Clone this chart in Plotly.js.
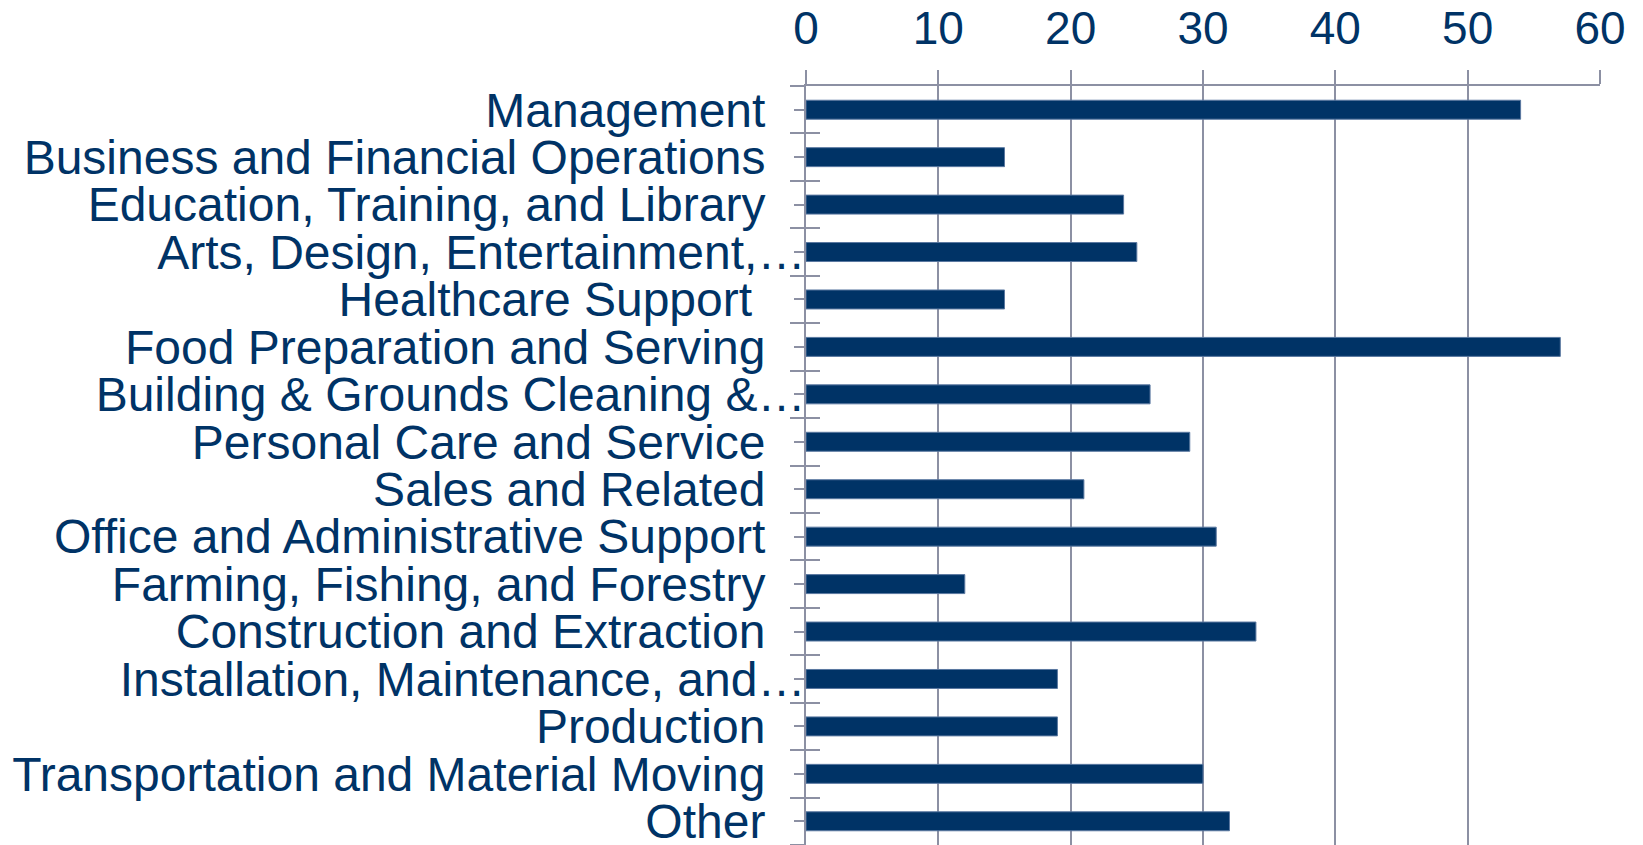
<!DOCTYPE html>
<html>
<head>
<meta charset="utf-8">
<script src="https://cdn.plot.ly/plotly-3.0.1.min.js"></script>
<style>html,body{margin:0;padding:0;background:#fff;}#chart{width:1643px;height:845px;}</style>
</head>
<body>
<div id="chart"></div>
<script>
const categories = [
  "Management",
  "Business and Financial Operations",
  "Education, Training, and Library",
  "Arts, Design, Entertainment,…",
  "Healthcare Support ",
  "Food Preparation and Serving",
  "Building & Grounds Cleaning &…",
  "Personal Care and Service",
  "Sales and Related",
  "Office and Administrative Support",
  "Farming, Fishing, and Forestry",
  "Construction and Extraction",
  "Installation, Maintenance, and…",
  "Production",
  "Transportation and Material Moving",
  "Other"
];
const values = [54, 15, 24, 25, 15, 57, 26, 29, 21, 31, 12, 34, 19, 19, 30, 32];
const xTicks = [0, 10, 20, 30, 40, 50, 60];

const navy = "rgb(0,51,102)";
const grid = "#8C90A3";
const font = "Liberation Sans, Arial, sans-serif";

// Excel-like: truncated labels reach the axis, others sit a little further left
const ticktext = categories.map(c => {
  let t = c.replace(/ +$/, m => "\u00A0".repeat(m.length));
  return c.endsWith("…") ? t : t + "\u00A0\u00A0\u00A0";
});
const idx = categories.map((_, i) => i);
const n = categories.length;
const boundaries = Array.from({length: n + 1}, (_, i) => i - 0.5);

const traces = [
  {
    type: "bar", orientation: "h",
    x: values, y: idx,
    marker: {color: navy, line: {color: "rgb(90,120,160)", width: 1}},
    width: 0.4,
    hoverinfo: "x+text", text: categories, textposition: "none"
  },
  {type: "scatter", mode: "markers", x: values, y: idx, yaxis: "y2",
   marker: {opacity: 0}, hoverinfo: "skip", showlegend: false},
  {type: "scatter", mode: "markers", x: values, y: idx, yaxis: "y3",
   marker: {opacity: 0}, hoverinfo: "skip", showlegend: false}
];

const yRange = [n - 0.5, -0.5];
const layout = {
  width: 1643, height: 845,
  margin: {l: 806, r: 43, t: 86, b: 0, pad: 0},
  paper_bgcolor: "#fff", plot_bgcolor: "#fff",
  showlegend: false,
  font: {family: font, color: navy},
  xaxis: {
    side: "top", range: [0, 60], tickvals: xTicks,
    ticks: "outside", ticklen: 14, tickwidth: 2, tickcolor: grid,
    showgrid: true, gridcolor: grid, gridwidth: 2,
    showline: true, linecolor: grid, linewidth: 2,
    zeroline: false,
    tickfont: {family: font, size: 46, color: navy},
    ticklabelstandoff: 8,
    ticklabeloverflow: "allow",
    fixedrange: true
  },
  yaxis: {
    range: yRange, tickvals: idx, ticktext: ticktext,
    ticks: "outside", ticklen: 10, tickwidth: 2, tickcolor: grid,
    showgrid: false, zeroline: false,
    showline: true, linecolor: grid, linewidth: 2,
    tickfont: {family: font, size: 48, color: navy},
    ticklabelstandoff: -21,
    ticklabeloverflow: "allow",
    fixedrange: true
  },
  yaxis2: {
    overlaying: "y", anchor: "x", side: "left", range: yRange,
    tickvals: boundaries, showticklabels: false,
    ticks: "outside", ticklen: 15, tickwidth: 2, tickcolor: grid,
    showgrid: false, zeroline: false, showline: false, fixedrange: true
  },
  yaxis3: {
    overlaying: "y", anchor: "x", side: "left", range: yRange,
    tickvals: boundaries, showticklabels: false,
    ticks: "inside", ticklen: 14, tickwidth: 2, tickcolor: grid,
    showgrid: false, zeroline: false, showline: false, fixedrange: true
  }
};

Plotly.newPlot("chart", traces, layout, {displayModeBar: false, responsive: false});
</script>
</body>
</html>
